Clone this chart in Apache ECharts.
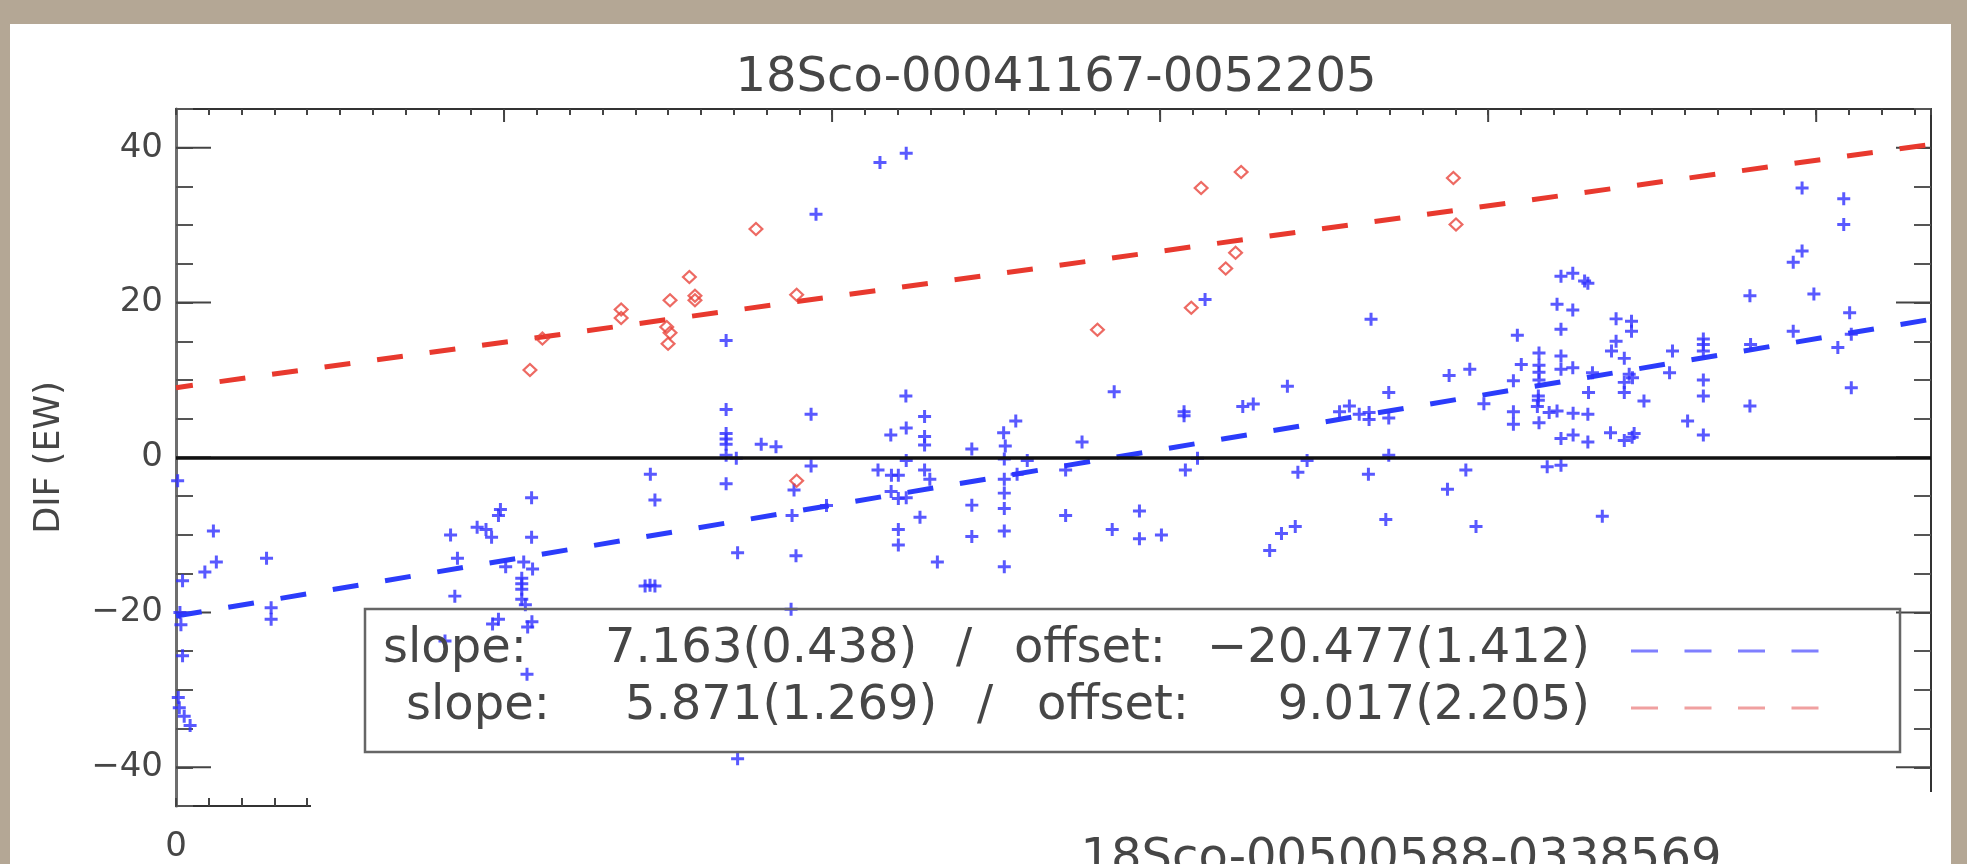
<!DOCTYPE html>
<html>
<head>
<meta charset="utf-8">
<title>18Sco-00041167-0052205</title>
<script src="https://cdn.jsdelivr.net/npm/echarts@6/dist/echarts.min.js"></script>
<style>
  html, body { margin: 0; padding: 0; width: 100%; height: 100%; overflow: hidden; }
  body { background: #b4a795; }
  .paper { position: absolute; left: 10px; top: 24px; right: 16px; bottom: 0; background: #fff; }
  #chart { position: absolute; left: 0; top: 0; width: 1967px; height: 864px; }
</style>
</head>
<body>
<div class="paper"></div>
<div id="chart"></div>
<script>
// axis ranges and tick positions
const xMax = 5.35;
const yMin = -45;
const yMax = 45;
const majorTicksX = [1, 2, 3, 4, 5];
const majorTicksY = [-40, -20, 0, 20, 40];

// linear fits: [blue, red]
const fitSlope = [7.163, 5.871];
const fitSlopeErr = [0.438, 1.269];
const fitOffset = [-20.477, 9.017];
const fitOffsetErr = [1.412, 2.205];

// DIF values, blue crosses
const blueCrosses = [
  [0.005, -3.0], [0.02, -15.9], [0.012, -20.0], [0.015, -21.6], [0.02, -25.6], [0.007, -31.0],
  [0.01, -32.3], [0.025, -33.4], [0.043, -34.6], [0.088, -14.8], [0.123, -13.5], [0.114, -9.5],
  [0.276, -13.0], [0.29, -19.4], [0.29, -20.9],
  [0.82, -23.7], [0.837, -10.0], [0.858, -13.0], [0.85, -17.9], [0.918, -9.0], [0.945, -9.3],
  [0.962, -10.3], [0.989, -6.7], [0.983, -7.5], [1.084, -5.2], [1.084, -10.3], [1.005, -14.1],
  [1.06, -13.5], [1.087, -14.4], [1.054, -15.6], [1.054, -16.3], [1.054, -17.0], [1.054, -18.3],
  [1.065, -19.0], [0.965, -21.5], [0.983, -20.9], [1.072, -21.9], [1.085, -21.2], [1.07, -28.0],
  [1.446, -2.15], [1.46, -5.5], [1.43, -16.6], [1.445, -16.5], [1.46, -16.6],
  [1.677, 15.1], [1.677, 6.2], [1.677, 3.1], [1.677, 2.4], [1.677, 1.7], [1.677, 0.3],
  [1.708, -0.1], [1.677, -3.4], [1.784, 1.7], [1.829, 1.4], [1.936, 5.6], [1.936, -1.1],
  [1.884, -4.2], [1.878, -7.5], [1.89, -12.7], [1.875, -19.6], [1.712, -12.3], [1.712, -38.9],
  [1.983, -6.2], [1.951, 31.4], [2.146, 38.1], [2.226, 39.3],
  [2.225, 7.95], [2.226, 3.8], [2.179, 2.9], [2.282, 5.3], [2.282, 2.7], [2.282, 1.6],
  [2.226, -0.4], [2.14, -1.6], [2.181, -2.3], [2.202, -2.3], [2.282, -1.6], [2.298, -2.8],
  [2.18, -4.4], [2.202, -5.3], [2.226, -5.2], [2.268, -7.7], [2.202, -9.3], [2.202, -11.3],
  [2.321, -13.5],
  [2.426, 1.1], [2.426, -6.15], [2.426, -10.2], [2.523, 3.2], [2.56, 4.7], [2.528, 1.5],
  [2.525, -0.2], [2.525, -2.8], [2.564, -2.15], [2.525, -4.6], [2.525, -6.6], [2.525, -9.5],
  [2.525, -14.1], [2.595, -0.4],
  [2.712, -1.6], [2.762, 2.0], [2.712, -7.5], [2.86, 8.5], [2.937, -6.9], [2.854, -9.3],
  [2.937, -10.5], [3.004, -10.0],
  [3.073, 5.9], [3.073, 5.4], [3.137, 20.4], [3.114, -0.1], [3.077, -1.6], [3.252, 6.6],
  [3.284, 6.9], [3.388, 9.2], [3.334, -12.0], [3.37, -9.8], [3.412, -8.9], [3.42, -1.9],
  [3.448, -0.4],
  [3.643, 17.85], [3.547, 5.9], [3.577, 6.65], [3.607, 5.6], [3.637, 5.8], [3.637, 4.9],
  [3.697, 8.4], [3.697, 5.1], [3.635, -2.15], [3.697, 0.3], [3.688, -8.0],
  [3.881, 10.6], [3.944, 11.4], [3.987, 6.95], [3.876, -4.1], [3.932, -1.6], [3.963, -8.9],
  [4.089, 15.8], [4.077, 9.9], [4.077, 5.9], [4.077, 4.3], [4.101, 12.0], [4.155, 13.5],
  [4.155, 11.9], [4.155, 11.0], [4.155, 10.0], [4.153, 7.95], [4.153, 7.4], [4.15, 6.6],
  [4.155, 4.5], [4.186, 5.8], [4.21, 6.0],
  [4.222, 23.4], [4.258, 23.8], [4.294, 22.8], [4.304, 22.5], [4.21, 19.8], [4.258, 19.05],
  [4.222, 16.55], [4.222, 13.1], [4.222, 11.4], [4.258, 11.6], [4.306, 8.4], [4.318, 10.95],
  [4.259, 5.7], [4.304, 5.6], [4.222, 2.45], [4.259, 2.9], [4.304, 2.0], [4.18, -1.2],
  [4.222, -1.0],
  [4.373, 3.2], [4.415, 2.2], [4.439, 2.6], [4.445, 3.1], [4.39, 17.9], [4.437, 17.6],
  [4.437, 16.3], [4.39, 15.0], [4.376, 13.75], [4.415, 12.8], [4.43, 10.75], [4.44, 10.3],
  [4.415, 9.7], [4.415, 8.4], [4.475, 7.3], [4.348, -7.6],
  [4.608, 4.7], [4.562, 13.75], [4.553, 10.95], [4.656, 15.3], [4.656, 14.6], [4.656, 13.75],
  [4.656, 10.0], [4.656, 7.95], [4.656, 2.9],
  [4.798, 20.9], [4.8, 14.6], [4.798, 6.65], [4.957, 34.8], [4.957, 26.65], [4.93, 25.2],
  [4.993, 21.1], [4.93, 16.3], [5.084, 33.4], [5.084, 30.1], [5.102, 18.7], [5.107, 15.9],
  [5.066, 14.2], [5.107, 9.0]
];

// DIF values, red diamonds
const redDiamonds = [
  [1.079, 11.3], [1.117, 15.35], [1.357, 19.1], [1.357, 18.0], [1.506, 20.3], [1.496, 16.85],
  [1.506, 16.1], [1.5, 14.7], [1.565, 23.3], [1.582, 20.9], [1.582, 20.3], [1.768, 29.5],
  [1.892, 21.0], [1.892, -3.0], [2.809, 16.5], [3.095, 19.35], [3.125, 34.8], [3.2, 24.4],
  [3.23, 26.45], [3.247, 36.85], [3.894, 36.1], [3.902, 30.1]
];

const FONT = 'DejaVu Sans';
const TEXT = '#464646';
const BLUE = '#2b3cfb';
const RED = '#e8392e';
const LEGEND_FONT = '48px "DejaVu Sans"';

function minus(v, digits) {
  const s = Math.abs(v).toFixed(digits);
  return v < 0 ? '\u2212' + s : s;
}

function fitLine(i) {
  return [[0, fitOffset[i]], [xMax, fitOffset[i] + fitSlope[i] * xMax]];
}

function legendText(text, x, y, align) {
  return {
    type: 'text', z: 10,
    style: { text: text, x: x, y: y, align: align || 'left', verticalAlign: 'middle', font: LEGEND_FONT, fill: TEXT }
  };
}

const chart = echarts.init(document.getElementById('chart'), null, { renderer: 'canvas' });

const frameLine = { onZero: false, lineStyle: { color: '#333', width: 2 } };
const tickStyle = { stroke: '#444', lineWidth: 2 };

const option = {
  animation: false,
  grid: { left: 176, right: 36, top: 109, bottom: 56 },
  xAxis: [
    {
      type: 'value', min: 0, max: xMax, interval: 0.1, position: 'bottom',
      axisLine: frameLine,
      axisTick: { inside: true, length: 8, lineStyle: { color: '#444', width: 2 } },
      axisLabel: {
        formatter: v => (Math.abs(v) < 1e-9 ? '0' : ''),
        fontFamily: FONT, fontSize: 34, color: TEXT, margin: 24
      },
      splitLine: { show: false }
    },
    {
      type: 'value', min: 0, max: xMax, interval: 0.1, position: 'top',
      axisLine: frameLine,
      axisTick: { inside: true, length: 6, lineStyle: { color: '#444', width: 2 } },
      axisLabel: { show: false },
      splitLine: { show: false }
    }
  ],
  yAxis: [
    {
      type: 'value', min: yMin, max: yMax, interval: 5, position: 'left',
      name: 'DIF (EW)', nameLocation: 'middle', nameGap: 109, nameRotate: 90,
      nameTextStyle: { fontFamily: FONT, fontSize: 35, color: TEXT },
      axisLine: { onZero: false, lineStyle: { color: '#6e6e6e', width: 3 } },
      axisTick: { inside: true, length: 17, lineStyle: { color: '#555', width: 2 } },
      axisLabel: {
        formatter: v => (v % 20 === 0 ? minus(v, 0) : ''),
        fontFamily: FONT, fontSize: 34, color: TEXT, margin: 13
      },
      splitLine: { show: false }
    },
    {
      type: 'value', min: yMin, max: yMax, interval: 5, position: 'right',
      axisLine: frameLine,
      axisTick: { inside: true, length: 17, lineStyle: { color: '#555', width: 2 } },
      axisLabel: { show: false },
      splitLine: { show: false }
    }
  ],
  series: [
    {
      // long ticks on the y axes
      type: 'custom',
      data: majorTicksY.map(v => [0, v]),
      renderItem: (params, api) => {
        const l = api.coord([0, api.value(1)]);
        const r = api.coord([xMax, api.value(1)]);
        return {
          type: 'group',
          children: [
            { type: 'line', shape: { x1: l[0], y1: l[1], x2: l[0] + 35, y2: l[1] }, style: tickStyle },
            { type: 'line', shape: { x1: r[0] - 35, y1: r[1], x2: r[0], y2: r[1] }, style: tickStyle }
          ]
        };
      },
      z: 1
    },
    {
      // long ticks on the x axes
      type: 'custom',
      data: majorTicksX.map(v => [v, 0]),
      renderItem: (params, api) => {
        const t = api.coord([api.value(0), yMax]);
        const b = api.coord([api.value(0), yMin]);
        return {
          type: 'group',
          children: [
            { type: 'line', shape: { x1: t[0], y1: t[1], x2: t[0], y2: t[1] + 13 }, style: tickStyle },
            { type: 'line', shape: { x1: b[0], y1: b[1], x2: b[0], y2: b[1] - 13 }, style: tickStyle }
          ]
        };
      },
      z: 1
    },
    {
      type: 'line',
      data: fitLine(0),
      showSymbol: false,
      lineStyle: { color: BLUE, width: 5, type: [26, 27] },
      markLine: {
        silent: true,
        symbol: ['none', 'none'],
        label: { show: false },
        lineStyle: { color: '#111', width: 3.5, type: 'solid' },
        data: [{ yAxis: 0 }]
      },
      z: 3
    },
    {
      type: 'line',
      data: fitLine(1),
      showSymbol: false,
      lineStyle: { color: RED, width: 5, type: [26, 27], dashOffset: 9 },
      z: 3
    },
    {
      type: 'scatter',
      data: blueCrosses,
      symbol: 'path://M3.85,0H6.15V3.85H10V6.15H6.15V10H3.85V6.15H0V3.85H3.85Z',
      symbolSize: 13,
      itemStyle: { color: '#3030ff' },
      z: 4
    },
    {
      type: 'scatter',
      data: redDiamonds,
      symbol: 'path://M5,0L10,5L5,10L0,5ZM5,2L2,5L5,8L8,5Z',
      symbolSize: [16, 15],
      itemStyle: { color: '#e8453c' },
      z: 4
    }
  ],
  graphic: [
    {
      type: 'text', z: 20,
      style: {
        text: '18Sco-00041167-0052205', x: 1056, y: 79, align: 'center', verticalAlign: 'middle',
        font: LEGEND_FONT, fill: TEXT
      }
    },
    // the next panel's header hides the lower part of the frame
    {
      type: 'rect', shape: { x: 311, y: 792, width: 1640, height: 72 },
      style: { fill: '#fff' }, z: 100
    },
    {
      type: 'text', z: 101,
      style: {
        text: '18Sco-00500588-0338569', x: 1401, y: 860, align: 'center', verticalAlign: 'middle',
        font: LEGEND_FONT, fill: TEXT
      }
    },
    // fit legend box
    {
      type: 'rect', shape: { x: 365, y: 609, width: 1535, height: 143 },
      style: { fill: 'none', stroke: '#666', lineWidth: 2.5 }, z: 10
    },
    legendText('slope:', 383, 650),
    legendText(fitSlope[0].toFixed(3) + '(' + fitSlopeErr[0].toFixed(3) + ')', 605, 650),
    legendText('/', 956, 650),
    legendText('offset:', 1014, 650),
    legendText(minus(fitOffset[0], 3) + '(' + fitOffsetErr[0].toFixed(3) + ')', 1590, 650, 'right'),
    legendText('slope:', 406, 707),
    legendText(fitSlope[1].toFixed(3) + '(' + fitSlopeErr[1].toFixed(3) + ')', 625, 707),
    legendText('/', 977, 707),
    legendText('offset:', 1037, 707),
    legendText(minus(fitOffset[1], 3) + '(' + fitOffsetErr[1].toFixed(3) + ')', 1590, 707, 'right'),
    {
      type: 'line', shape: { x1: 1631, y1: 651, x2: 1820, y2: 651 },
      style: { stroke: '#7f7fff', lineWidth: 3, lineDash: [27, 26.5] }, z: 10
    },
    {
      type: 'line', shape: { x1: 1631, y1: 708, x2: 1820, y2: 708 },
      style: { stroke: '#f0a0a0', lineWidth: 3, lineDash: [27, 26.5] }, z: 10
    }
  ]
};

chart.setOption(option);
window.addEventListener('resize', () => chart.resize());
</script>
</body>
</html>
